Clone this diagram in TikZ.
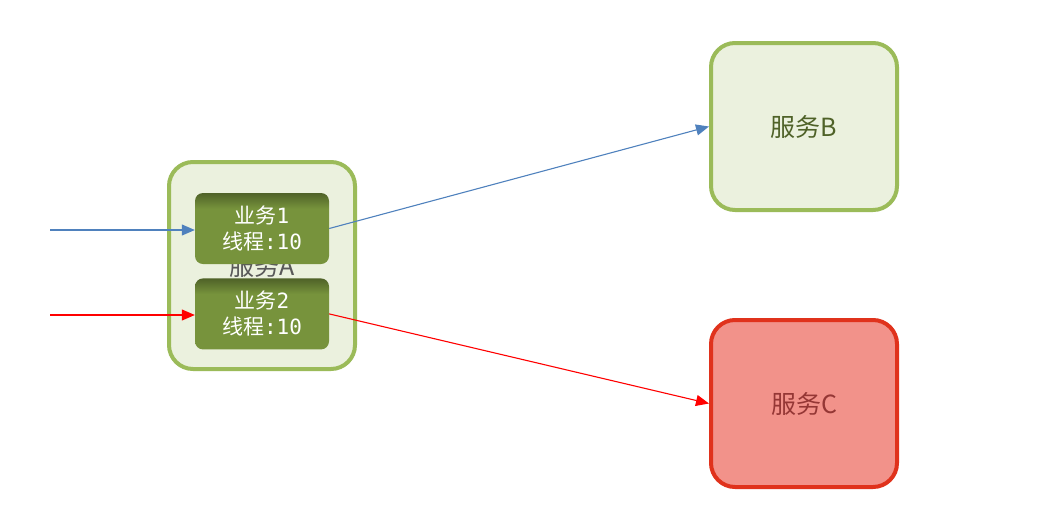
\documentclass[tikz,border=0pt]{standalone}
\usepackage{fontspec}
\newfontfamily\cjk{Noto Sans CJK SC}
\setmonofont{DejaVu Sans Mono}
\usetikzlibrary{positioning, arrows.meta}
\definecolor{svcline}{HTML}{9BBB59}
\definecolor{svcfill}{HTML}{EBF1DE}
\definecolor{svctext}{HTML}{4F6228}
\definecolor{bizfill}{HTML}{77933C}
\definecolor{bizdark}{HTML}{4F6228}
\definecolor{failfill}{HTML}{F2928A}
\definecolor{failline}{HTML}{E0321C}
\definecolor{failtext}{HTML}{953735}
\definecolor{callblue}{HTML}{4F81BD}
% darker band along the top edge only
\pgfdeclareverticalshading{bizshade}{100bp}{color(0bp)=(bizfill); color(64bp)=(bizfill); color(75bp)=(bizdark); color(100bp)=(bizdark)}
\tikzset{
service/.style={draw=svcline, fill=svcfill, line width=4pt, rounded corners=24pt, text=svctext, font=\cjk\fontsize{25}{28}\selectfont}, % a service box
failed/.style={service, draw=failline, fill=failfill, text=failtext}, % a service that is down
business/.style={rounded corners=8pt, shading=bizshade, text=white, align=center, inner sep=0pt, minimum width=134pt, minimum height=71pt, font=\cjk\fontsize{21}{26}\selectfont}, % a business inside a service
call/.style={-{Triangle[length=13pt,width=11pt]}, line width=1.1pt}, % a request
}

\begin{document}
\begin{tikzpicture}[x=1pt, y=-1pt]
  \useasboundingbox (0,0) rectangle (1044,504);
  % Services
  \node[service, minimum width=186pt, minimum height=207pt, text=black!65] (svcA) at (262,265.5) {服务A};
  \node[service, minimum width=186pt, minimum height=167pt] (svcB) at (804,126.5) {服务B};
  \node[failed, minimum width=186pt, minimum height=167pt] (svcC) at (804,403.5) {服务C};

  % Businesses of service A
  \node[business] (biz1) at (262,228.5) {业务\texttt{1}\\线程\texttt{:10}};
  \node[business, below=14pt of biz1] (biz2) {业务\texttt{2}\\线程\texttt{:10}};

  % Requests
  \coordinate (in1) at (50,230);
  \coordinate (in2) at (50,315);
  \path
    (in1) edge[call, callblue] (in1 -| biz1.west)
    (in2) edge[call, red] (in2 -| biz2.west)
    (biz1.east) edge[call, callblue] (svcB.west)
    (biz2.east) edge[call, red] (svcC.west);
\end{tikzpicture}
\end{document}
